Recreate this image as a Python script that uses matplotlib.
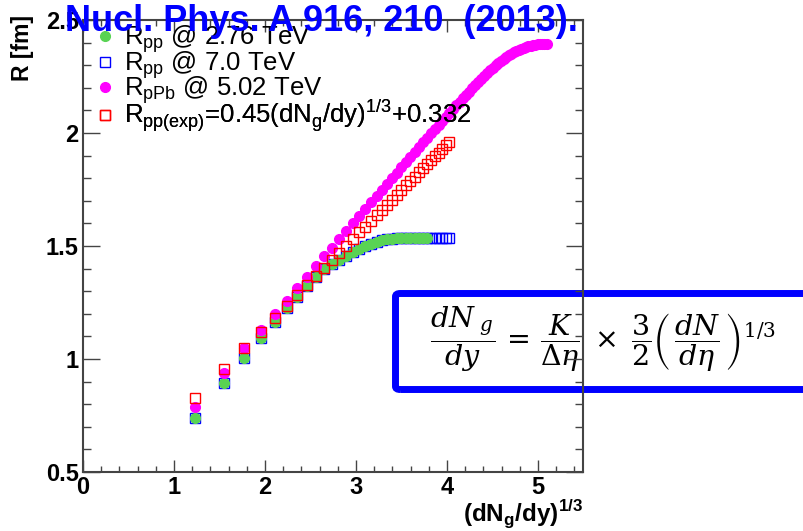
import matplotlib
matplotlib.use("Agg")
import matplotlib.pyplot as plt
from matplotlib.patches import FancyBboxPatch
from matplotlib.lines import Line2D
from matplotlib.ticker import MultipleLocator

plt.rcParams["font.family"] = ["Liberation Sans", "DejaVu Sans"]

# x positions, (dN_g/dy)^(1/3), shared by all series
x_all = [1.231, 1.551, 1.775, 1.954, 2.105, 2.237, 2.355, 2.462, 2.560, 2.652,
         2.737, 2.818, 2.894, 2.967, 3.036, 3.102, 3.165, 3.226, 3.284, 3.341,
         3.395, 3.448, 3.500, 3.549, 3.598, 3.645, 3.691, 3.736, 3.780, 3.824,
         3.866, 3.907, 3.947, 3.987, 4.026, 4.064, 4.102, 4.138, 4.174, 4.210,
         4.244, 4.279, 4.312, 4.345, 4.378, 4.410, 4.442, 4.473, 4.504, 4.534,
         4.564, 4.594, 4.623, 4.652, 4.680, 4.708, 4.736, 4.763, 4.790, 4.817,
         4.844, 4.870, 4.896, 4.922, 4.947, 4.972, 4.997, 5.022, 5.046, 5.070,
         5.094]

# R_pp @ 2.76 TeV (first 29 points)
r_pp276 = [0.739, 0.895, 1.006, 1.091, 1.165, 1.224, 1.276, 1.323, 1.362, 1.398,
           1.420, 1.440, 1.457, 1.472, 1.488, 1.500, 1.510, 1.519, 1.525, 1.529,
           1.532, 1.534, 1.535, 1.535, 1.535, 1.535, 1.535, 1.535, 1.535]

# R_pp @ 7.0 TeV (first 35 points)
r_pp7 = [0.739, 0.895, 1.006, 1.091, 1.165, 1.224, 1.276, 1.323, 1.362, 1.398,
         1.420, 1.440, 1.457, 1.472, 1.488, 1.500, 1.510, 1.519, 1.525, 1.529,
         1.532, 1.534, 1.535, 1.535, 1.535, 1.535, 1.535, 1.535, 1.535, 1.535,
         1.535, 1.535, 1.535, 1.535, 1.535]

# R_pPb @ 5.02 TeV (all 71 points)
r_ppb = [0.786, 0.939, 1.047, 1.128, 1.198, 1.258, 1.315, 1.364, 1.411, 1.454,
         1.493, 1.531, 1.567, 1.601, 1.634, 1.665, 1.695, 1.723, 1.750, 1.776,
         1.801, 1.825, 1.849, 1.872, 1.895, 1.917, 1.938, 1.959, 1.979, 1.999,
         2.018, 2.036, 2.054, 2.072, 2.089, 2.106, 2.122, 2.138, 2.153, 2.168,
         2.183, 2.197, 2.211, 2.225, 2.239, 2.252, 2.265, 2.277, 2.289, 2.300,
         2.310, 2.320, 2.329, 2.337, 2.344, 2.351, 2.357, 2.362, 2.367, 2.372,
         2.376, 2.380, 2.383, 2.386, 2.388, 2.390, 2.392, 2.393, 2.394, 2.394,
         2.395]

# R_pp(exp) (first 35 points)
r_exp = [0.827, 0.957, 1.048, 1.120, 1.182, 1.235, 1.283, 1.327, 1.366, 1.404,
         1.438, 1.471, 1.502, 1.532, 1.560, 1.586, 1.612, 1.637, 1.660, 1.683,
         1.705, 1.727, 1.748, 1.768, 1.788, 1.807, 1.826, 1.844, 1.862, 1.880,
         1.897, 1.913, 1.929, 1.946, 1.962]

labels = [r"R$_{\mathregular{pp}}$ @ 2.76 TeV",
          r"R$_{\mathregular{pp}}$ @ 7.0 TeV",
          r"R$_{\mathregular{pPb}}$ @ 5.02 TeV",
          r"R$_{\mathregular{pp(exp)}}$=0.45(dN$_{\mathregular{g}}$/dy)$^{\mathregular{1/3}}$+0.332"]

GREEN = "#59d354"
AXC = "#444444"

fig = plt.figure(figsize=(8.04, 5.31), dpi=100)
fig.patch.set_facecolor("white")
ax = fig.add_axes([0.1032, 0.1111, 0.6225, 0.8512])
ax.set_facecolor("none")

ms = 7
ax.plot(x_all[:len(r_pp7)], r_pp7, ls="none", marker="s", ms=ms - 0.5,
        mfc="none", mec="#0000ff", mew=1.0, zorder=2)
ax.plot(x_all[:len(r_pp276)], r_pp276, ls="none", marker="o", ms=ms,
        mfc=GREEN, mec=GREEN, zorder=3)
ax.plot(x_all[:len(r_ppb)], r_ppb, ls="none", marker="o", ms=ms,
        mfc="#ff00ff", mec="#ff00ff", zorder=4)
ax.plot(x_all[:len(r_exp)], r_exp, ls="none", marker="s", ms=ms + 0.5,
        mfc="none", mec="#ff0000", mew=1.0, zorder=5)

ax.set_xlim(0, 5.5)
ax.set_ylim(0.5, 2.5)
ax.xaxis.set_major_locator(MultipleLocator(1))
ax.xaxis.set_minor_locator(MultipleLocator(0.2))
ax.yaxis.set_major_locator(MultipleLocator(0.5))
ax.yaxis.set_minor_locator(MultipleLocator(0.1))
ax.set_xticks([0, 1, 2, 3, 4, 5], labels=["0", "1", "2", "3", "4", "5"])
ax.set_yticks([0.5, 1, 1.5, 2, 2.5], labels=["0.5", "1", "1.5", "2", "2.5"])

ax.tick_params(which="both", direction="in", top=True, right=True,
               color=AXC, width=1.0, pad=3)
ax.tick_params(axis="x", which="major", length=8.6)
ax.tick_params(axis="x", which="minor", length=4.3)
ax.tick_params(axis="y", which="major", length=12)
ax.tick_params(axis="y", which="minor", length=5.8)
for lab in ax.get_xticklabels() + ax.get_yticklabels():
    lab.set_fontsize(17)
    lab.set_fontweight("bold")
for sp in ax.spines.values():
    sp.set_color(AXC)
    sp.set_linewidth(1.5)

# legend: one small legend per row so the rows keep an even pitch
handles = [
    Line2D([], [], ls="none", marker="o", ms=ms, mfc=GREEN, mec=GREEN),
    Line2D([], [], ls="none", marker="s", ms=ms - 0.5, mfc="none", mec="#0000ff"),
    Line2D([], [], ls="none", marker="o", ms=ms, mfc="#ff00ff", mec="#ff00ff"),
    Line2D([], [], ls="none", marker="s", ms=ms + 0.5, mfc="none", mec="#ff0000"),
]
row_y = [39, 65, 90, 116]
for h, lab, y in zip(handles, labels, row_y):
    leg = ax.legend([h], [lab], loc="center left",
                    bbox_to_anchor=(97 / 804, 1 - y / 531),
                    bbox_transform=fig.transFigure, frameon=False, fontsize=18.5,
                    borderpad=0, borderaxespad=0, handlelength=0.6,
                    handletextpad=0.45)
    ax.add_artist(leg)

# axis titles
fig.text(583 / 804, 1 - 522 / 531, r"(dN$_{\mathregular{g}}$/dy)$^{\mathregular{1/3}}$",
         ha="right", va="baseline", fontsize=17.5, fontweight="bold")
fig.text(23 / 804, 1 - 48 / 531, "R [fm]", rotation=90, ha="center", va="center",
         fontsize=16.5, fontweight="bold")

# citation
fig.text(65 / 804, 1 - 31 / 531, "Nucl. Phys. A 916, 210  (2013).",
         ha="left", va="baseline", fontsize=26, fontweight="bold", color="#0000ff")

# equation box
box = FancyBboxPatch((395.5 / 804, 1 - 389.5 / 531), 0.6, 96 / 531,
                     boxstyle="round,pad=0,rounding_size=0.006",
                     transform=fig.transFigure, fill=False, edgecolor="#0000ff",
                     linewidth=5, zorder=-1)
fig.patches.append(box)
fig.text(603 / 804, 1 - 339 / 531,
         r"$\dfrac{dN_{\ g}}{dy}\,=\,\dfrac{K}{\mathit{\Delta}\eta}\;\times\;\dfrac{3}{2}"
         r"\left(\,\dfrac{dN}{d\eta}\,\right)^{1/3}$",
         ha="center", va="center", fontsize=20.5, math_fontfamily="dejavuserif",
         zorder=-0.5)

fig.savefig("out.png", dpi=100)
